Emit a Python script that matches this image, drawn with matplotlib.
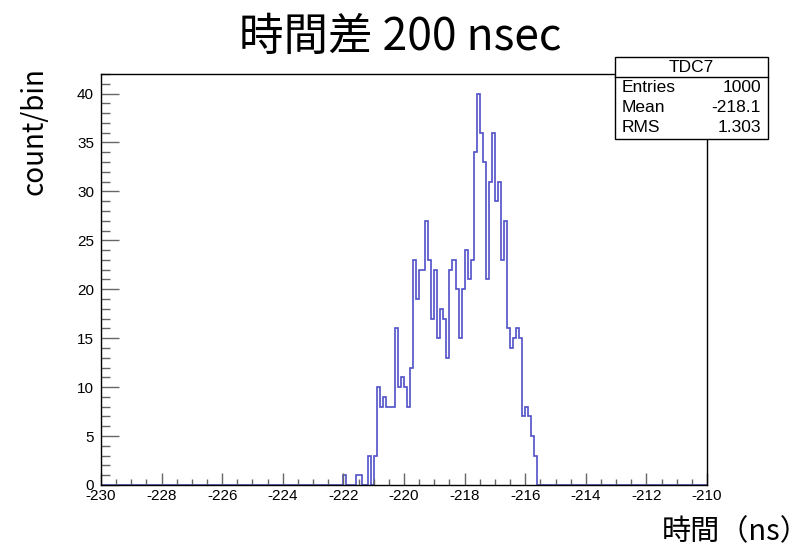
import numpy as np
import matplotlib
matplotlib.use("Agg")
from matplotlib import pyplot as plt
from matplotlib.ticker import MultipleLocator
from matplotlib.patches import Rectangle
from matplotlib.lines import Line2D

# histogram TDC7: 200 bins of 0.1 ns from -230 to -210
x_min, x_max, n_bins = -230.0, -210.0, 200
first_filled = -222.0   # left edge of the first bin listed below
counts_filled = [1, 0, 0, 0, 1, 1, 0, 0, 3, 0,
                 3, 10, 8, 9, 8, 8, 8, 16, 10, 11,
                 10, 8, 12, 23, 19, 22, 22, 27, 23, 17,
                 22, 15, 18, 17, 13, 22, 23, 20, 15, 20,
                 24, 21, 23, 34, 40, 36, 33, 21, 31, 36,
                 29, 31, 23, 27, 16, 14, 15, 16, 15, 7,
                 8, 7, 5, 3]

stat_title = "TDC7"
stat_names = ["Entries", "Mean", "RMS"]
stat_values = ["1000", "-218.1", "1.303"]

title = "時間差 200 nsec"
y_label = "count/bin"
x_label = "時間（ns）"

edges = np.linspace(x_min, x_max, n_bins + 1)
counts = np.zeros(n_bins)
i0 = int(round((first_filled - x_min) / 0.1))
counts[i0:i0 + len(counts_filled)] = counts_filled

jp = ["Noto Sans CJK JP", "DejaVu Sans"]
arial = "Liberation Sans"

fig = plt.figure(figsize=(8.11, 5.5), dpi=100)
ax = fig.add_axes([0.1245, 0.1182, 0.7473, 0.7473])

ax.stairs(counts, edges, color="#5050c8", linewidth=1.2)
ax.set_xlim(x_min, x_max)
ax.set_ylim(0, 42)

ax.xaxis.set_major_locator(MultipleLocator(2))
ax.xaxis.set_minor_locator(MultipleLocator(0.5))
ax.yaxis.set_major_locator(MultipleLocator(5))
ax.yaxis.set_minor_locator(MultipleLocator(1))
ax.tick_params(axis="x", which="major", direction="in", length=8.5, width=1, color="#666666", pad=3)
ax.tick_params(axis="x", which="minor", direction="in", length=4.3, width=1, color="#666666")
ax.tick_params(axis="y", which="major", direction="in", length=13, width=1, color="#666666", pad=5)
ax.tick_params(axis="y", which="minor", direction="in", length=6.5, width=1, color="#666666")
for lab in ax.get_xticklabels() + ax.get_yticklabels():
    lab.set_fontfamily(arial)
    lab.set_fontsize(11)
ax.xaxis.set_major_formatter(plt.FuncFormatter(lambda v, p: "%d" % v))
for sp in ax.spines.values():
    sp.set_color("black")
    sp.set_linewidth(1)

fig.text(0.493, 0.932, title, ha="center", va="center", fontsize=32, family=jp)
fig.text(0.043, 0.762, y_label, ha="center", va="center", rotation=90, fontsize=20, family=jp)
fig.text(0.907, 0.033, x_label, ha="center", va="center", fontsize=21, family=jp)

# stats box
bx0, bx1 = 615 / 811, 768 / 811
by0, by1 = 1 - 139 / 550, 1 - 57 / 550
fig.patches.append(Rectangle((bx0, by0), bx1 - bx0, by1 - by0, transform=fig.transFigure,
                             facecolor="white", edgecolor="black", linewidth=1, zorder=5))
fig.lines.append(Line2D([bx0, bx1], [1 - 77 / 550] * 2, transform=fig.transFigure,
                        color="black", linewidth=1, zorder=6))
fig.text((bx0 + bx1) / 2, 1 - 67 / 550, stat_title, ha="center", va="center",
         fontsize=12.5, family=arial, zorder=7)
for k in range(len(stat_names)):
    yy = 1 - (88 + 20 * k) / 550
    fig.text(622 / 811, yy, stat_names[k], ha="left", va="center", fontsize=12.5, family=arial, zorder=7)
    fig.text(761 / 811, yy, stat_values[k], ha="right", va="center", fontsize=12.5, family=arial, zorder=7)

fig.savefig("out.png", dpi=100)
